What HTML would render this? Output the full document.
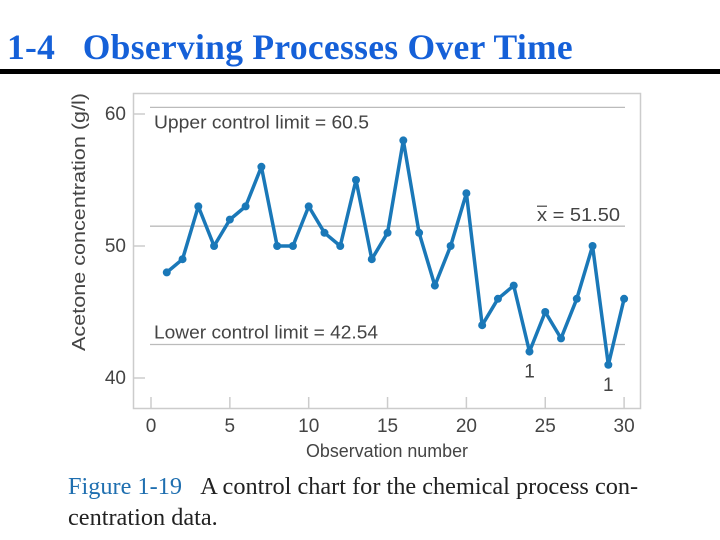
<!DOCTYPE html>
<html><head><meta charset="utf-8"><style>
body{margin:0;width:720px;height:540px;background:#fff;overflow:hidden;position:relative}
.t{position:absolute;font-family:"Liberation Serif",serif;white-space:nowrap}
</style></head><body>
<div class="t" style="left:7px;top:26px;font-size:35.5px;font-weight:bold;color:#1560d8;letter-spacing:0.3px">1-4&nbsp;&nbsp;&nbsp;Observing Processes Over Time</div>
<div style="position:absolute;left:0;top:69px;width:720px;height:5px;background:#000"></div>
<svg id="c" width="720" height="540" style="position:absolute;left:0;top:0" font-family="Liberation Sans, sans-serif"></svg>
<div class="t" style="left:68px;top:471px;font-size:24.3px;line-height:31px;color:#222"><span style="color:#1f6fb0">Figure 1-19</span>&nbsp;&nbsp;&nbsp;A control chart for the chemical process con-<br>centration data.</div>
<script>
const obs=[1,2,3,4,5,6,7,8,9,10,11,12,13,14,15,16,17,18,19,20,21,22,23,24,25,26,27,28,29,30];
const conc=[48,49,53,50,52,53,56,50,50,53,51,50,55,49,51,58,51,47,50,54,44,46,47,42,45,43,46,50,41,46];
const xTicks=[0,5,10,15,20,25,30];
const yTicks=[40,50,60];
const ucl=60.5, cl=51.5, lcl=42.54;
const xs=v=>151+v*15.77, ys=v=>114+(60-v)*13.2;
const s=document.getElementById('c'),NS='http://www.w3.org/2000/svg';
function mk(t,a,txt){const e=document.createElementNS(NS,t);for(const k in a)e.setAttribute(k,a[k]);if(txt!=null)e.textContent=txt;s.appendChild(e);return e;}
let e=mk('rect',{x:133.5,y:93.5,width:507,height:315,fill:'none',stroke:'#ccc','stroke-width':1.5});

yTicks.forEach(v=>{e=mk('line',{x1:133,x2:145,y1:ys(v),y2:ys(v),stroke:'#ccc','stroke-width':1.5});

e=mk('text',{x:126,y:ys(v)+6,'text-anchor':'end','font-size':19,fill:'#444'},v);
});
xTicks.forEach(v=>{e=mk('line',{x1:xs(v),x2:xs(v),y1:409,y2:397,stroke:'#ccc','stroke-width':1.5});

e=mk('text',{x:xs(v),y:432,'text-anchor':'middle','font-size':19,fill:'#444'},v);
});
[[ucl,'upper-control-limit-line'],[cl,'center-line'],[lcl,'lower-control-limit-line']].forEach(([v,n])=>{
e=mk('line',{x1:150,x2:625,y1:ys(v),y2:ys(v),stroke:'#bbb','stroke-width':1.3});
});
e=mk('text',{x:154,y:ys(ucl)+21,'font-size':18,fill:'#444',textLength:215,lengthAdjust:'spacingAndGlyphs'},'Upper control limit = 60.5');

e=mk('text',{x:154,y:ys(lcl)-6,'font-size':18,fill:'#444',textLength:224,lengthAdjust:'spacingAndGlyphs'},'Lower control limit = 42.54');

e=mk('text',{x:537,y:ys(cl)-5,'font-size':18,fill:'#444',textLength:83,lengthAdjust:'spacingAndGlyphs'},'x = 51.50');

mk('line',{x1:537,x2:547,y1:ys(cl)-20,y2:ys(cl)-20,stroke:'#444','stroke-width':1.2});
e=mk('text',{x:306,y:457,'font-size':18,fill:'#444',textLength:162,lengthAdjust:'spacingAndGlyphs'},'Observation number');

e=mk('text',{x:0,y:0,'font-size':18,fill:'#444',textLength:258,lengthAdjust:'spacingAndGlyphs',transform:'translate(85,351) rotate(-90)'},'Acetone concentration (g/l)');

e=mk('polyline',{points:obs.map((o,i)=>xs(o)+','+ys(conc[i])).join(' '),fill:'none',stroke:'#1a78b8','stroke-width':3.5,'stroke-linejoin':'round'});

obs.forEach((o,i)=>{e=mk('circle',{cx:xs(o),cy:ys(conc[i]),r:4,fill:'#1a78b8'});

if(conc[i]<lcl||conc[i]>ucl){e=mk('text',{x:xs(o),y:ys(conc[i])+26,'text-anchor':'middle','font-size':19,fill:'#444'},'1');
}});
</script>
</body></html>
